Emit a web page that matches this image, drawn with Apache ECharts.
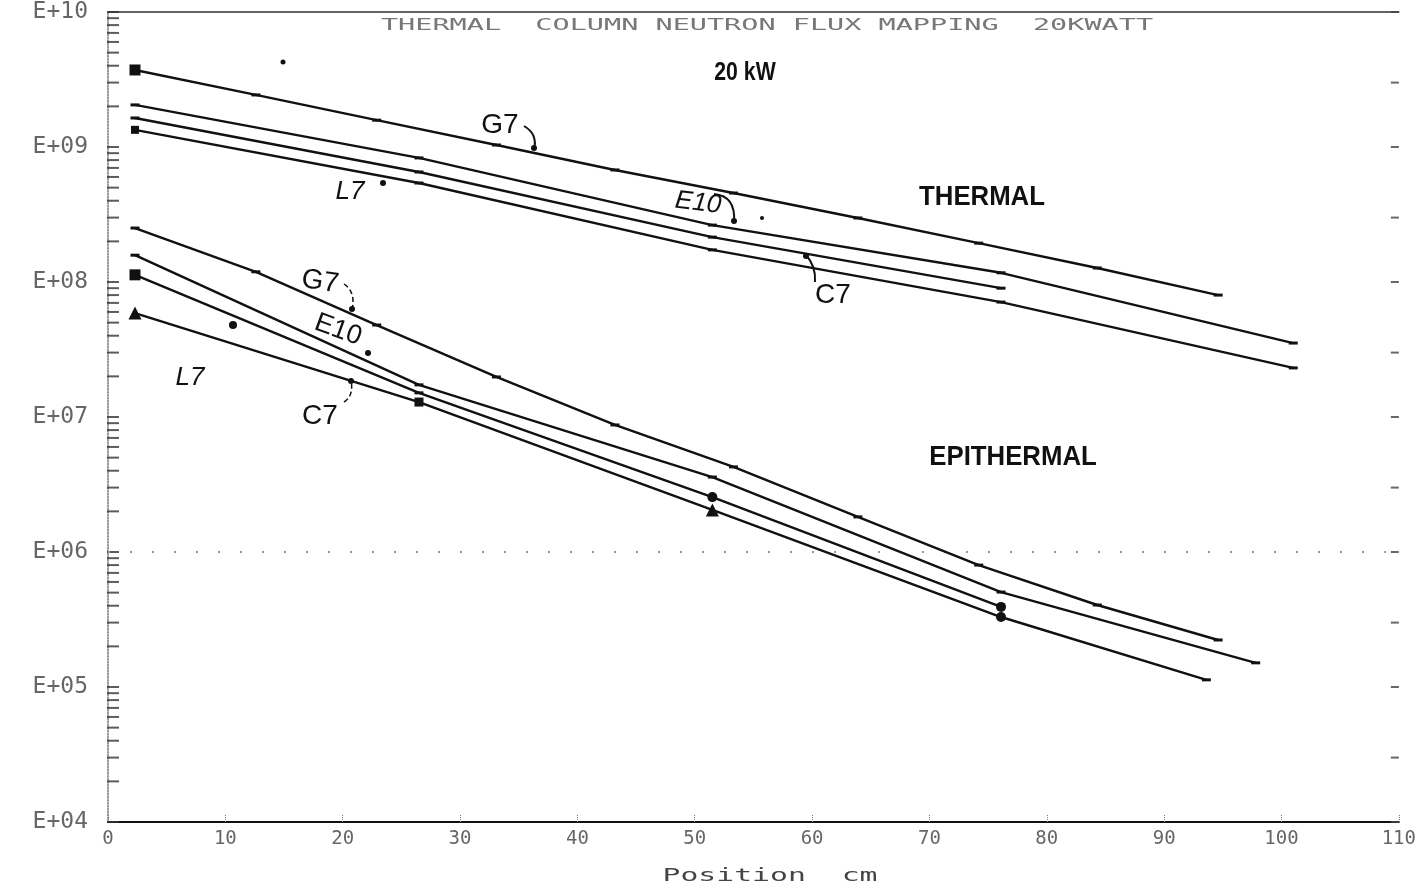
<!DOCTYPE html>
<html>
<head>
<meta charset="utf-8">
<script src="https://cdn.jsdelivr.net/npm/echarts@6/dist/echarts.min.js"></script>
<style>
  html, body { margin: 0; padding: 0; background: #fff; }
  #main { width: 1419px; height: 896px; }
</style>
</head>
<body>
<div id="main"></div>
<script>
// positions (cm)
const xEvery10 = [2.3, 12.6, 22.9, 33.1, 43.2, 53.3, 63.9, 74.2, 84.3, 94.6];
const xScan = [2.3, 26.5, 51.5, 76.1, 101];
const xEpiE10 = [2.3, 26.5, 51.5, 76.1, 97.8];
const xEpiC7 = [2.3, 26.5, 51.5, 76.1, 93.6];

// thermal flux (n/cm2 s)
const thermalG7 = [3.72e9, 2.43e9, 1.58e9, 1.035e9, 6.76e8, 4.56e8, 2.98e8, 1.94e8, 1.27e8, 8.0e7];
const thermalE10 = [2.05e9, 8.3e8, 2.64e8, 1.17e8, 3.53e7];
const thermalC7 = [1.64e9, 6.53e8, 2.15e8, 9.0e7];
const thermalL7 = [1.34e9, 5.41e8, 1.73e8, 7.1e7, 2.31e7];

// epithermal flux
const epiG7 = [2.51e8, 1.19e8, 4.8e7, 1.98e7, 8.73e6, 4.27e6, 1.82e6, 8.0e5, 4.05e5, 2.23e5];
const epiE10 = [1.58e8, 1.73e7, 3.59e6, 5.05e5, 1.51e5];
const epiL7 = [1.13e8, 1.51e7, 2.55e6, 3.92e5];
const epiC7 = [5.89e7, 1.29e7, 2.05e6, 3.3e5, 1.13e5];

// axis
const xTicks = [0, 10, 20, 30, 40, 50, 60, 70, 80, 90, 100, 110];
const decades = [4, 5, 6, 7, 8, 9, 10];

document.addEventListener('DOMContentLoaded', function() {
    var myChart = echarts.init(document.getElementById('main'));
    const ink = '#111';
    const mono = 'DejaVu Sans Mono';

    // pair x/y, with an optional symbol override per point index
    const pairs = (xs, ys, special) => ys.map((v, i) => {
        const item = { value: [xs[i], v] };
        if (special && special[i]) Object.assign(item, special[i]);
        return item;
    });

    const lineSeries = (name, data) => ({
        name: name,
        type: 'line',
        data: data,
        symbol: 'rect',
        symbolSize: [9, 3],
        lineStyle: { color: ink, width: 2.4 },
        itemStyle: { color: ink },
        silent: true,
        z: 5
    });

    // log minor ticks for the left and right edges
    const leftTicks = [];
    const rightTicks = [];
    decades.forEach(k => {
        for (let m = 1; m <= 9; m++) {
            if (k === 10 && m > 1) break;
            leftTicks.push([0, m * Math.pow(10, k)]);
            if (m === 1 || m === 3) rightTicks.push([110, m * Math.pow(10, k)]);
        }
    });

    const bigSq = { symbol: 'rect', symbolSize: 11 };
    const tri = { symbol: 'triangle', symbolSize: 13 };
    const dot = { symbol: 'circle', symbolSize: 10 };

    const option = {
        backgroundColor: '#fff',
        animation: false,
        grid: { left: 108, right: 7, top: 12, bottom: 74 },
        xAxis: [
            {
                type: 'value',
                min: xTicks[0],
                max: xTicks[xTicks.length - 1],
                interval: 10,
                axisLine: { lineStyle: { color: ink, width: 2 } },
                axisTick: { inside: true, length: 7, lineStyle: { color: '#777', type: 'dotted' } },
                axisLabel: { color: '#666', fontFamily: mono, fontSize: 19, margin: 8 },
                splitLine: { show: false }
            },
            {
                type: 'value',
                position: 'top',
                min: 0,
                max: 110,
                axisLine: { lineStyle: { color: '#333', width: 1.5 } },
                axisTick: { show: false },
                axisLabel: { show: false },
                splitLine: { show: false }
            }
        ],
        yAxis: {
            type: 'log',
            logBase: 10,
            min: 1e4,
            max: 1e10,
            axisLine: { show: true, lineStyle: { color: '#777', type: 'dotted', width: 1.5 } },
            axisTick: { show: false },
            splitLine: { show: false },
            axisLabel: {
                color: '#666',
                fontFamily: mono,
                fontSize: 23,
                margin: 20,
                formatter: v => 'E+' + String(Math.round(Math.log10(v))).padStart(2, '0')
            }
        },
        series: [
            lineSeries('Thermal G7', pairs(xEvery10, thermalG7, { 0: bigSq })),
            lineSeries('Thermal E10', pairs(xScan, thermalE10)),
            lineSeries('Thermal C7', pairs(xScan, thermalC7)),
            lineSeries('Thermal L7', pairs(xScan, thermalL7, { 0: { symbol: 'rect', symbolSize: 8 } })),
            lineSeries('Epithermal G7', pairs(xEvery10, epiG7)),
            lineSeries('Epithermal E10', pairs(xEpiE10, epiE10)),
            lineSeries('Epithermal L7', pairs(xScan, epiL7, { 0: bigSq, 2: dot, 3: dot })),
            lineSeries('Epithermal C7', pairs(xEpiC7, epiC7, { 0: tri, 1: { symbol: 'rect', symbolSize: 9 }, 2: tri, 3: dot })),
            {
                type: 'scatter',
                data: leftTicks,
                symbol: 'rect',
                symbolSize: [12, 2],
                symbolOffset: [5, 0],
                itemStyle: { color: '#333' },
                silent: true,
                clip: false,
                markLine: {
                    silent: true,
                    symbol: 'none',
                    label: { show: false },
                    lineStyle: { color: '#999', type: [2, 20], width: 2 },
                    data: [{ yAxis: 1e6 }]
                }
            },
            {
                type: 'scatter',
                data: rightTicks,
                symbol: 'rect',
                symbolSize: [8, 2],
                symbolOffset: [-4, 0],
                itemStyle: { color: '#444' },
                silent: true,
                clip: false
            }
        ],
        graphic: [
            // header line of the plotter
            { type: 'text', x: 767, y: 26, scaleX: 1.9, style: { text: 'THERMAL  COLUMN NEUTRON FLUX MAPPING  20KWATT', font: '15px ' + mono, fill: '#777', textAlign: 'center', textVerticalAlign: 'middle' } },
            { type: 'text', x: 770, y: 877, scaleX: 1.75, style: { text: 'Position  cm', font: '17px ' + mono, fill: '#444', textAlign: 'center', textVerticalAlign: 'middle' } },
            // typed captions
            { type: 'text', x: 745, y: 73, scaleX: 0.85, style: { text: '20 kW', font: 'bold 25px Liberation Sans', fill: ink, textAlign: 'center', textVerticalAlign: 'middle' } },
            { type: 'text', x: 982, y: 197, scaleX: 0.92, style: { text: 'THERMAL', font: 'bold 28px Liberation Sans', fill: ink, textAlign: 'center', textVerticalAlign: 'middle' } },
            { type: 'text', x: 1013, y: 457, scaleX: 0.92, style: { text: 'EPITHERMAL', font: 'bold 28px Liberation Sans', fill: ink, textAlign: 'center', textVerticalAlign: 'middle' } },
            // handwritten curve labels
            { type: 'text', x: 500, y: 125, style: { text: 'G7', font: '28px Liberation Sans', fill: ink, textAlign: 'center', textVerticalAlign: 'middle' } },
            { type: 'text', x: 698, y: 203, rotation: -0.12, style: { text: 'E10', font: 'italic 26px Liberation Sans', fill: ink, textAlign: 'center', textVerticalAlign: 'middle' } },
            { type: 'text', x: 833, y: 295, style: { text: 'C7', font: '28px Liberation Sans', fill: ink, textAlign: 'center', textVerticalAlign: 'middle' } },
            { type: 'text', x: 350, y: 192, style: { text: 'L7', font: 'italic 26px Liberation Sans', fill: ink, textAlign: 'center', textVerticalAlign: 'middle' } },
            { type: 'text', x: 320, y: 282, rotation: -0.15, style: { text: 'G7', font: '28px Liberation Sans', fill: ink, textAlign: 'center', textVerticalAlign: 'middle' } },
            { type: 'text', x: 338, y: 330, rotation: -0.35, style: { text: 'E10', font: '27px Liberation Sans', fill: ink, textAlign: 'center', textVerticalAlign: 'middle' } },
            { type: 'text', x: 320, y: 416, style: { text: 'C7', font: '28px Liberation Sans', fill: ink, textAlign: 'center', textVerticalAlign: 'middle' } },
            { type: 'text', x: 190, y: 378, style: { text: 'L7', font: 'italic 26px Liberation Sans', fill: ink, textAlign: 'center', textVerticalAlign: 'middle' } },
            // pointer strokes
            { type: 'bezierCurve', shape: { x1: 524, y1: 126, cpx1: 538, cpy1: 134, x2: 534, y2: 150 }, style: { stroke: ink, lineWidth: 2, fill: null } },
            { type: 'bezierCurve', shape: { x1: 714, y1: 194, cpx1: 736, cpy1: 196, x2: 734, y2: 222 }, style: { stroke: ink, lineWidth: 2, fill: null } },
            { type: 'bezierCurve', shape: { x1: 815, y1: 282, cpx1: 816, cpy1: 266, x2: 806, y2: 255 }, style: { stroke: ink, lineWidth: 2, fill: null } },
            { type: 'bezierCurve', shape: { x1: 344, y1: 284, cpx1: 356, cpy1: 292, x2: 352, y2: 310 }, style: { stroke: ink, lineWidth: 1.5, lineDash: [5, 3], fill: null } },
            { type: 'bezierCurve', shape: { x1: 344, y1: 402, cpx1: 354, cpy1: 396, x2: 351, y2: 380 }, style: { stroke: ink, lineWidth: 1.5, lineDash: [5, 3], fill: null } },
            { type: 'circle', shape: { cx: 534, cy: 148, r: 3 }, style: { fill: ink } },
            { type: 'circle', shape: { cx: 734, cy: 221, r: 3 }, style: { fill: ink } },
            { type: 'circle', shape: { cx: 806, cy: 256, r: 3 }, style: { fill: ink } },
            { type: 'circle', shape: { cx: 352, cy: 309, r: 3 }, style: { fill: ink } },
            { type: 'circle', shape: { cx: 368, cy: 353, r: 3 }, style: { fill: ink } },
            { type: 'circle', shape: { cx: 351, cy: 381, r: 3 }, style: { fill: ink } },
            { type: 'circle', shape: { cx: 383, cy: 183, r: 3 }, style: { fill: ink } },
            { type: 'circle', shape: { cx: 233, cy: 325, r: 4 }, style: { fill: ink } },
            { type: 'circle', shape: { cx: 283, cy: 62, r: 2.5 }, style: { fill: ink } },
            { type: 'circle', shape: { cx: 762, cy: 218, r: 2 }, style: { fill: ink } }
        ]
    };

    option && myChart.setOption(option);
});
</script>
</body>
</html>
